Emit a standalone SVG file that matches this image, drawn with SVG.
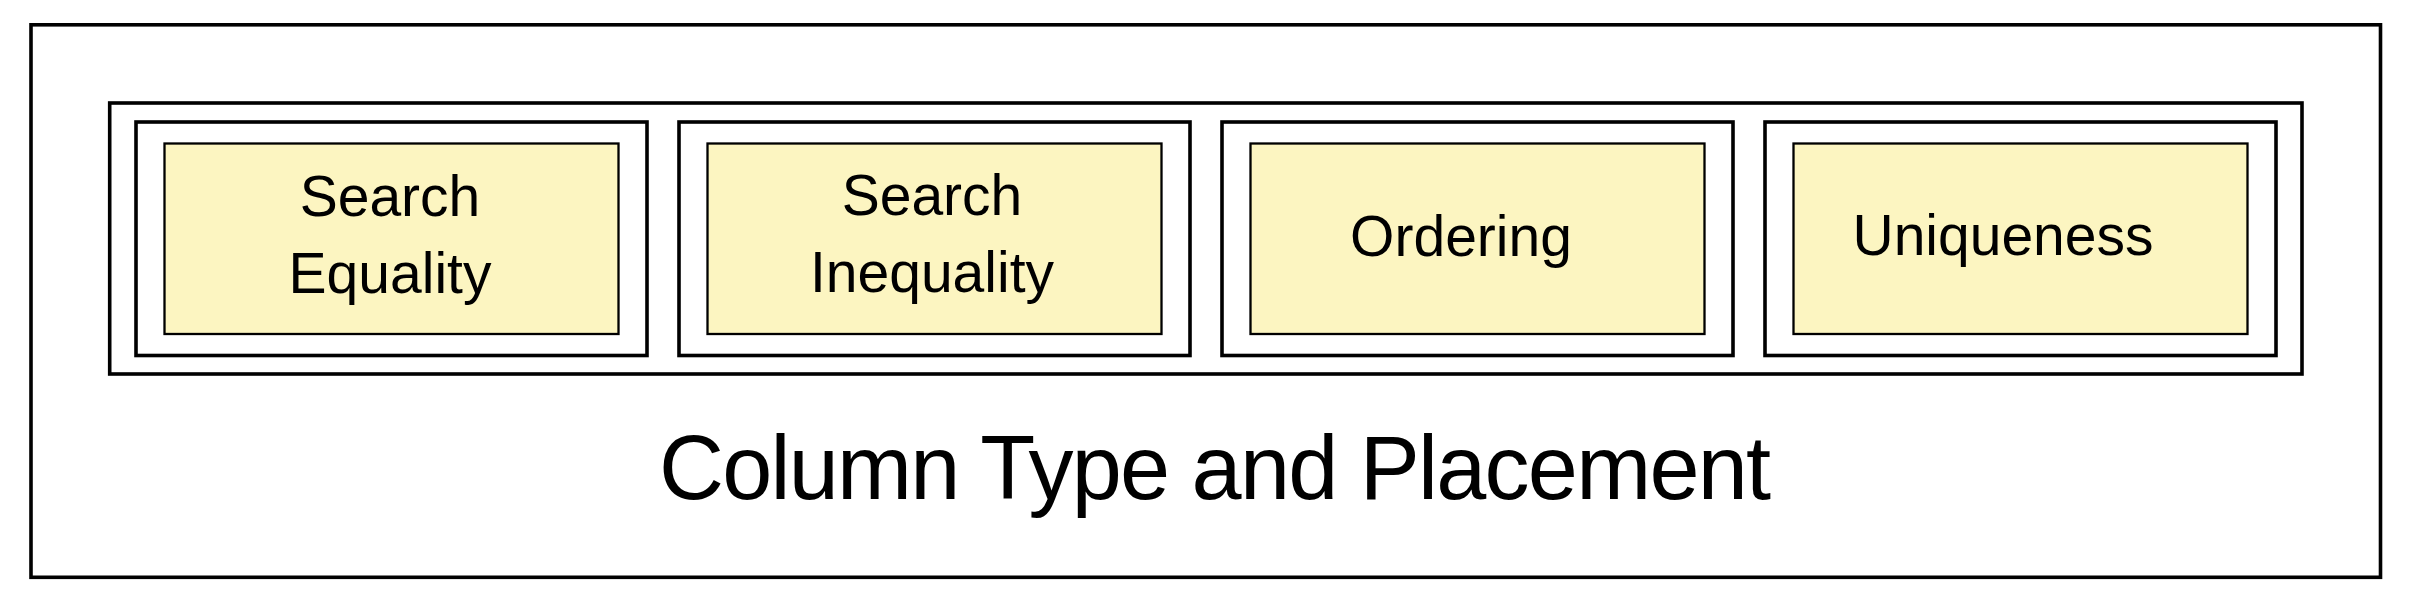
<svg xmlns="http://www.w3.org/2000/svg" width="2420" height="604" viewBox="0 0 2420 604">
<style>
.frame{fill:#ffffff;stroke:#000000;stroke-width:3.6}
.box{fill:#fcf5c1;stroke:#000000;stroke-width:2.3}
.lbl{font-family:"Liberation Sans",Arial,sans-serif;font-size:57px;fill:#000000;text-anchor:middle}
.title{font-family:"Liberation Sans",Arial,sans-serif;font-size:90px;fill:#000000;text-anchor:middle}
</style>
<rect width="2420" height="604" fill="#ffffff"/>
<g id="outer">
<rect class="frame" x="31" y="24.8" width="2349.5" height="552.5"/>
<text class="title" x="1215" y="499" textLength="1112" lengthAdjust="spacing">Column Type and Placement</text>
</g>
<g id="group">
<rect class="frame" x="109.7" y="103" width="2192.3" height="271"/>
</g>
<g id="node-search-equality">
<rect class="frame" x="136" y="122" width="511" height="233.5"/>
<rect class="box" x="164.5" y="143.5" width="454" height="190.5"/>
<text class="lbl" x="390" y="216">Search</text>
<text class="lbl" x="390" y="293">Equality</text>
</g>
<g id="node-search-inequality">
<rect class="frame" x="679" y="122" width="511" height="233.5"/>
<rect class="box" x="707.5" y="143.5" width="454" height="190.5"/>
<text class="lbl" x="932" y="215">Search</text>
<text class="lbl" x="932" y="292">Inequality</text>
</g>
<g id="node-ordering">
<rect class="frame" x="1222" y="122" width="511" height="233.5"/>
<rect class="box" x="1250.5" y="143.5" width="454" height="190.5"/>
<text class="lbl" x="1461" y="256">Ordering</text>
</g>
<g id="node-uniqueness">
<rect class="frame" x="1765" y="122" width="511" height="233.5"/>
<rect class="box" x="1793.5" y="143.5" width="454" height="190.5"/>
<text class="lbl" x="2003" y="255">Uniqueness</text>
</g>
<g id="connectors"></g>
</svg>
